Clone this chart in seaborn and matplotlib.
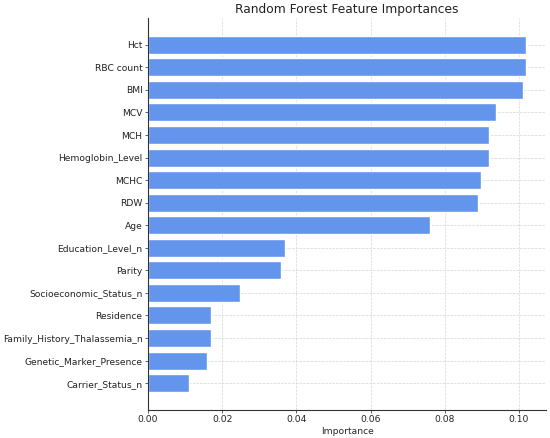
import pandas as pd
import matplotlib
matplotlib.use('Agg')
import matplotlib.pyplot as plt
import seaborn as sns

# Feature importances
features = ['Hct', 'RBC count', 'BMI', 'MCV', 'MCH', 'Hemoglobin_Level', 'MCHC', 'RDW',
            'Age', 'Education_Level_n', 'Parity', 'Socioeconomic_Status_n', 'Residence',
            'Family_History_Thalassemia_n', 'Genetic_Marker_Presence', 'Carrier_Status_n']
importances = [0.1019, 0.1019, 0.1010, 0.0939, 0.0919, 0.0919, 0.0898, 0.0889,
               0.0760, 0.0369, 0.0359, 0.0249, 0.0169, 0.0169, 0.0159, 0.0110]

df = pd.DataFrame({'Feature': features, 'Importance': importances})

sns.set_style('white')
plt.rcParams['font.family'] = ['DejaVu Sans']

fig, ax = plt.subplots(figsize=(5.5, 4.38), dpi=100)
sns.barplot(data=df, x='Importance', y='Feature', orient='h', color='cornflowerblue',
            saturation=1, width=0.8, ax=ax, zorder=2)
ax.set_xlim(0, max(importances) * 1.053)
ax.set_ylim(len(features) - 0.5 + 0.69, -0.5 - 0.69)
ax.set_title('Random Forest Feature Importances', fontsize=8.8, color='#222222', pad=3.3)
ax.set_xlabel('Importance', fontsize=6.6, labelpad=2.2)
ax.set_ylabel('')
ax.tick_params(axis='both', labelsize=6.6, length=2, width=0.5, pad=1.9,
               left=True, bottom=True, colors='#222222')
ax.grid(True, linestyle='--', color='#cccccc', linewidth=0.5, alpha=0.8, zorder=0)
ax.set_axisbelow(True)
sns.despine(ax=ax)
for s in ['left', 'bottom']:
    ax.spines[s].set_color('#333333')
    ax.spines[s].set_linewidth(0.8)

fig.subplots_adjust(left=0.269, right=0.993, top=0.959, bottom=0.064)
fig.savefig('out.png', dpi=100)
